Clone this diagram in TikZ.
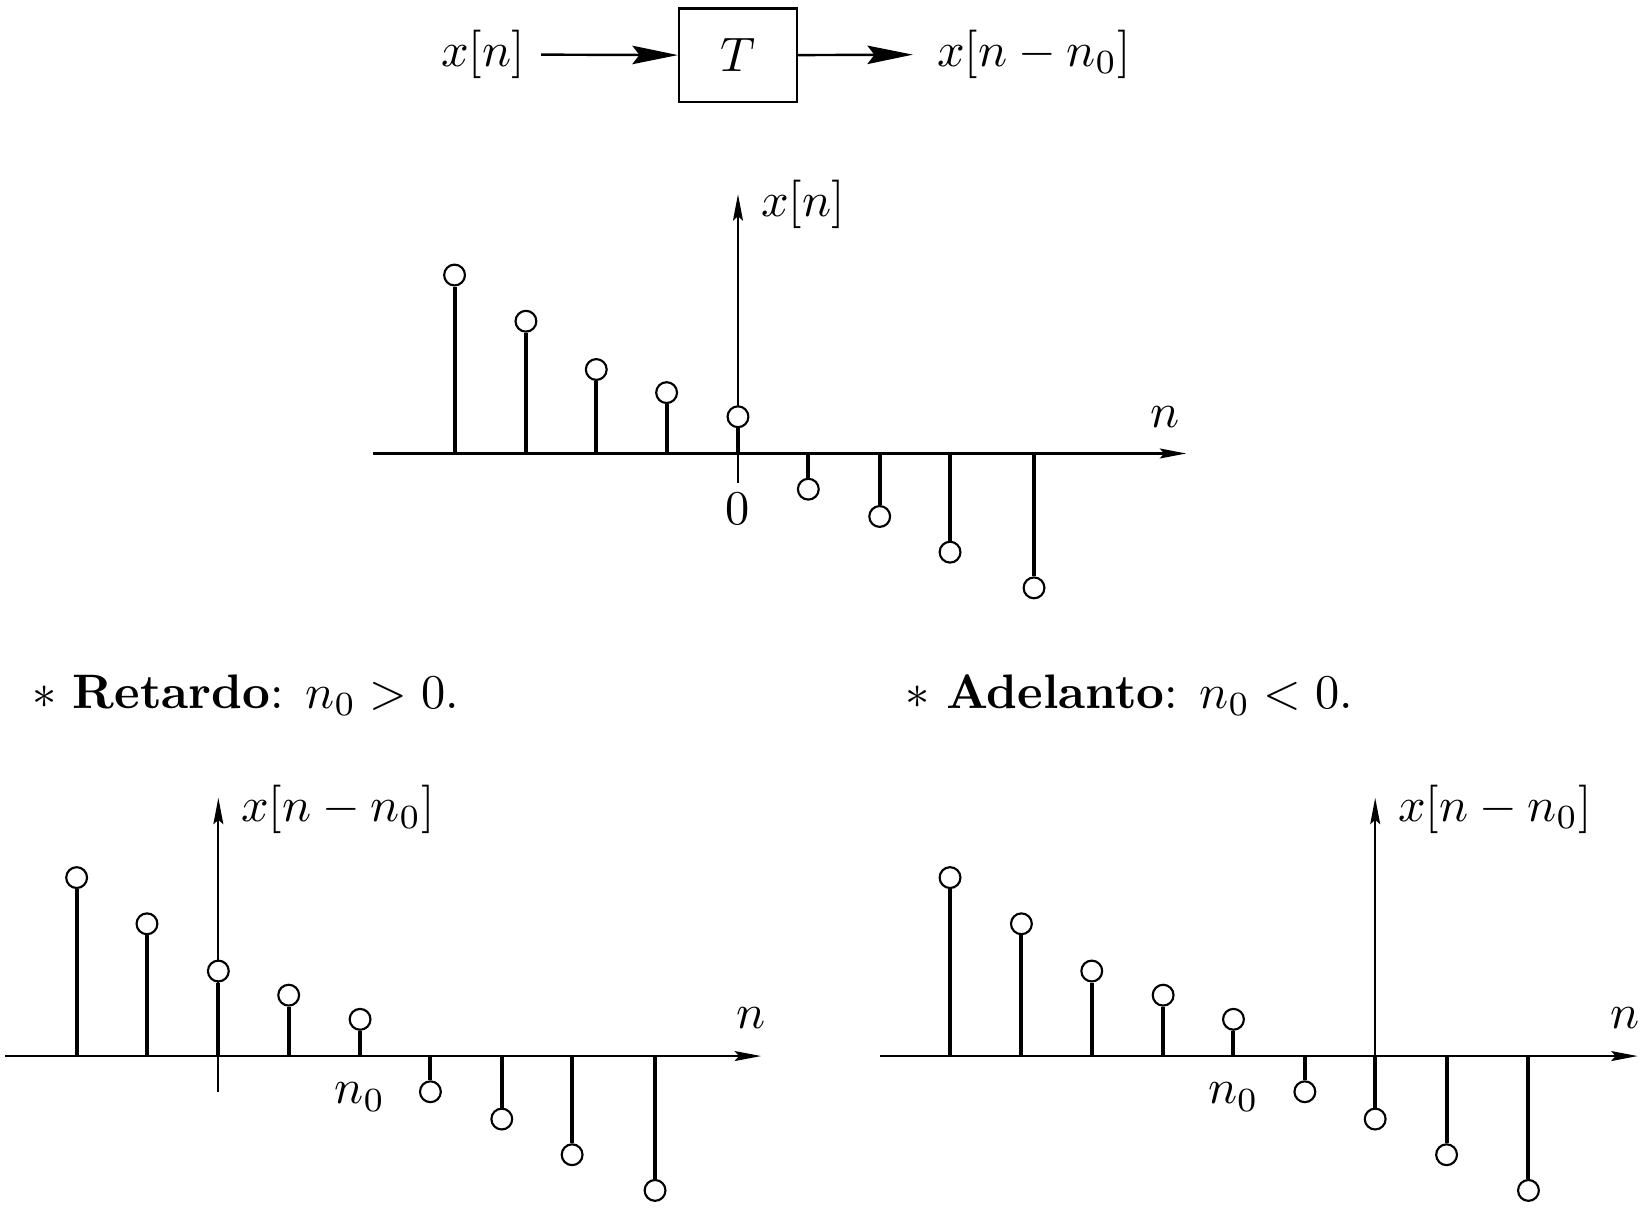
\documentclass[tikz,border=0pt]{standalone}
\usetikzlibrary{arrows.meta}
\begin{document}
\begin{tikzpicture}[x=0.2167pt,y=-0.2167pt,
  dot/.style={circle,draw,fill=white,line width=0.44pt,inner sep=0pt,minimum size=4.3pt},
  stem/.style={line width=0.83pt},
  haxis/.style={line width=0.44pt,-{Stealth[length=5.45pt,width=2.05pt,inset=0.9pt]}},
  vaxis/.style={line width=0.4pt,-{Stealth[length=5.45pt,width=2.05pt,inset=0.9pt]}},
  flow/.style={line width=0.5pt,-{Stealth[length=9.4pt,width=3.8pt,inset=1.45pt]}},
  lbl/.style={inner sep=0pt},
  blk/.style={draw,line width=0.5pt,minimum width=24.3pt,minimum height=19.3pt,inner sep=0pt}]
\useasboundingbox (0,0) rectangle (1568,1152);

% ---- block diagram
\node[lbl] (xin) at (460,52) {$x[n]$};
\node[blk] (T) at (703,52.5) {$T$};
\node[lbl] (xout) at (985,52) {$x[n-n_0]$};
\draw[flow,shorten <=3.2pt] (xin.east) -- (T.west);
\draw[flow,shorten >=4.8pt] (T.east) -- (xout.west);

% ---- middle plot
\coordinate (mL) at (355,432);
\coordinate (mR) at (1130,432);
\coordinate (mB) at (703,460);
\coordinate (mT) at (703,185);
\draw[haxis] (mL) -- (mR);
\draw[vaxis] (mB) -- (mT);
\foreach \x/\h [count=\i] in {433/-170,501/-126,568/-80,635/-58,703/-35,770/34,838/60,905/94,985/128}{
  \coordinate (mb\i) at (\x,432);
  \node[dot] (mc\i) at (\x,{432+\h}) {};
  \draw[stem] (mb\i) -- (mc\i);
}
\node[lbl] (mlx) at (765,195) {$x[n]$};
\node[lbl] (mln) at (1110,397) {$n$};
\node[lbl] (ml0) at (703,485) {$0$};

% ---- captions
\node[lbl,anchor=base west] (cap1) at (30,675) {$\ast$ \textbf{Retardo}: $n_0>0$.};
\node[lbl,anchor=base west] (cap2) at (862,675) {$\ast$ \textbf{Adelanto}: $n_0<0$.};

% ---- bottom left plot
\coordinate (lL) at (5,1006);
\coordinate (lR) at (725,1006);
\coordinate (lB) at (208,1040);
\coordinate (lT) at (208,760);
\draw[haxis] (lL) -- (lR);
\draw[vaxis] (lB) -- (lT);
\foreach \x/\h [count=\i] in {73/-170,140/-126,208/-81,275/-58,343/-35,410/34,478/60,545/94,624/128}{
  \coordinate (lb\i) at (\x,1006);
  \node[dot] (lc\i) at (\x,{1006+\h}) {};
  \draw[stem] (lb\i) -- (lc\i);
}
\node[lbl] (llx) at (322,771) {$x[n-n_0]$};
\node[lbl] (lln) at (715,970) {$n$};
\node[lbl] (lln0) at (343,1045) {$n_0$};

% ---- bottom right plot
\coordinate (rL) at (838,1006);
\coordinate (rR) at (1560,1006);
\coordinate (rB) at (1310,1006);
\coordinate (rT) at (1310,760);
\draw[haxis] (rL) -- (rR);
\draw[vaxis] (rB) -- (rT);
\foreach \x/\h [count=\i] in {905/-170,973/-126,1040/-81,1108/-58,1175/-35,1243/34,1310/60,1378/94,1456/128}{
  \coordinate (rb\i) at (\x,1006);
  \node[dot] (rc\i) at (\x,{1006+\h}) {};
  \draw[stem] (rb\i) -- (rc\i);
}
\node[lbl] (rlx) at (1424,771) {$x[n-n_0]$};
\node[lbl] (rln) at (1548,970) {$n$};
\node[lbl] (rln0) at (1175,1045) {$n_0$};
\end{tikzpicture}
\end{document}
